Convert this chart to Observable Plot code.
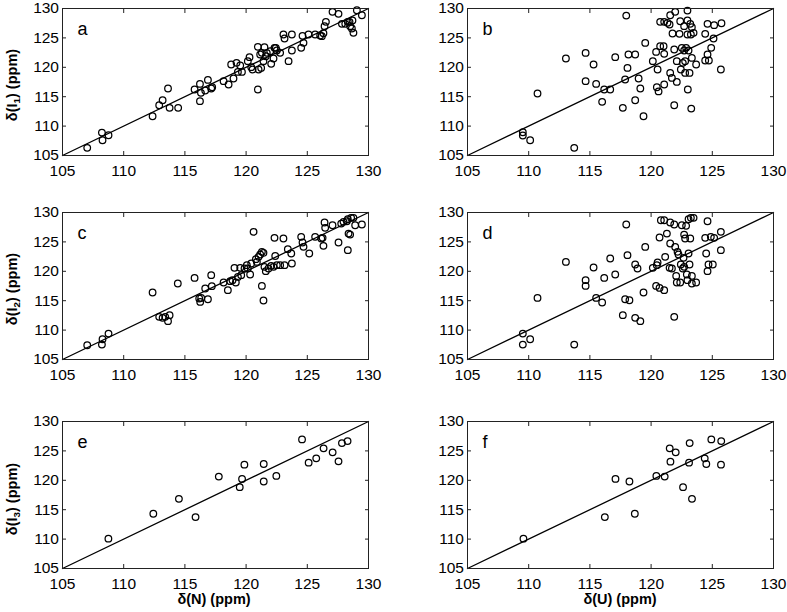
<!DOCTYPE html>
<html><head><meta charset="utf-8">
<script src="https://cdn.jsdelivr.net/npm/d3@7"></script>
<script src="https://cdn.jsdelivr.net/npm/@observablehq/plot@0.6"></script>
<style>
body{margin:0;background:#fff;}
#fig{position:relative;width:787px;height:612px;overflow:hidden;font-family:"Liberation Sans",Arial,sans-serif;color:#000;}
.panel{position:absolute;}
.ylab{position:absolute;font-weight:bold;font-size:14.5px;white-space:nowrap;transform:translate(-50%,-50%) rotate(-90deg);}
.xlab{position:absolute;font-weight:bold;font-size:14.5px;white-space:nowrap;transform:translate(-50%,-50%);}
sub{font-size:0.68em;vertical-align:-0.3em;line-height:0;}
</style></head><body><div id="fig"></div>
<script>
const axisRange = [105, 130];
const tickValues = [105, 110, 115, 120, 125, 130];
const letters = ["a", "b", "c", "d", "e", "f"];

// Panel a: δ(N) vs δ(I1)
const aN = [107.02,108.22,108.27,108.76,112.36,112.9,113.18,113.62,113.75,114.45,115.79,116.23,116.23,116.31,116.66,116.88,117.15,117.23,
118.16,118.57,118.78,118.97,119.22,119.33,119.52,119.66,120.14,120.28,120.42,120.53,120.96,121.02,121.15,121.29,121.23,121.42,121.5,121.61,121.69,121.97,122.05,122.24,122.32,122.43,122.51,122.78,120.96,123.05,123.14,123.74,123.47,123.74,124.5,124.61,124.69,125.1,125.64,126.05,126.19,126.32,126.41,126.52,127.06,127.55,127.83,128.1,128.31,128.45,128.5,128.64,128.77,128.69,129.05,129.46];
const aI1 = [106.3,108.9,107.6,108.45,111.68,113.55,114.4,116.39,113.1,113.1,116.22,117.18,114.24,115.66,116.05,117.86,116.39,116.6,
117.64,117.07,120.47,118.09,120.76,119.22,120.3,119.22,121.04,121.72,120.02,119.62,123.48,119.62,122.17,122.46,119.9,121.04,123.42,121.88,122.46,122.74,120.59,121.49,123.31,123.31,122.85,122.46,116.22,125.57,124.89,125.57,121.04,122.85,123.31,125.35,124.16,125.57,125.57,125.4,125.29,125.8,126.99,127.73,129.43,129.09,127.39,127.39,127.73,127.73,126.99,126.6,125.86,127.96,129.71,128.86];

// Panel b: δ(U) vs δ(I1)
const bU = [109.52,109.52,110.12,110.72,113.04,113.72,114.65,114.65,115.3,115.51,116.0,116.17,116.66,117.07,117.69,117.97,117.88,118.15,118.07,118.7,118.7,118.98,119.12,119.38,119.52,120.14,120.41,120.47,120.61,120.53,120.74,121.02,121.07,121.07,120.74,121.07,121.34,121.51,121.56,121.7,121.56,121.97,121.75,121.89,121.89,122.1,122.1,122.32,122.38,122.43,122.51,122.59,122.7,122.7,122.78,122.78,122.86,122.97,122.97,122.97,123.06,123.14,123.2,123.25,123.33,123.47,123.0,123.28,123.33,123.68,124.42,124.42,124.61,124.72,124.61,124.91,125.1,125.15,125.7,125.75];
const bI1 = [108.96,108.4,107.6,115.54,121.49,106.3,122.45,117.64,120.47,117.18,114.12,116.22,116.22,121.72,113.1,128.8,117.92,122.17,119.9,122.17,114.4,118.09,116.39,111.68,124.15,121.04,122.62,116.6,115.9,119.62,123.59,123.59,122.29,117.07,127.73,127.73,127.56,127.28,119.05,118.2,128.86,129.43,125.74,123.02,113.55,117.52,121.04,125.69,127.84,119.62,123.31,120.76,122.85,126.99,121.04,119.05,123.31,125.57,129.65,127.96,122.85,119.05,127.39,125.57,126.82,125.86,116.22,112.98,121.6,120.47,125.69,121.15,122.17,121.15,127.39,123.31,124.89,127.16,119.62,127.5];

// Panel c: δ(N) vs δ(I2)
const cN = [107.02,108.22,108.27,108.76,112.36,112.9,113.18,113.39,113.62,113.75,114.42,115.79,116.17,116.25,116.33,116.66,116.88,117.15,117.2,118.16,118.51,118.7,118.89,119.05,119.16,119.33,119.52,119.6,119.87,120.06,120.14,120.33,120.42,120.61,120.8,120.88,121.02,121.15,121.29,121.42,121.29,121.42,121.5,121.61,121.83,122.05,122.24,122.32,122.38,122.51,122.78,123.05,123.14,123.41,123.69,123.74,124.5,124.61,124.69,125.16,125.64,126.14,126.25,126.32,126.41,126.46,127.06,127.55,127.77,127.96,128.23,128.31,128.37,128.5,128.31,128.58,128.77,128.91,129.46];
const cI2 = [107.43,107.54,108.45,109.41,116.39,112.25,112.08,112.25,111.52,112.54,117.92,118.88,115.37,114.8,115.48,117.07,115.25,119.34,117.47,118.09,116.79,118.32,118.49,120.59,118.09,119.05,120.59,119.34,120.47,121.04,120.47,119.45,121.32,126.71,122.06,121.6,122.46,122.85,123.31,123.14,117.52,115.03,120.76,120.02,120.47,120.93,120.76,125.69,122.6,121.04,121.04,125.57,121.04,123.76,123.02,121.32,125.86,124.89,124.16,123.02,125.86,125.57,125.69,124.33,128.3,127.39,127.84,124.89,128.12,128.41,128.52,128.86,126.42,126.25,123.59,129.09,129.09,127.84,127.96];

// Panel d: δ(U) vs δ(I2)
const dU = [109.52,109.52,110.12,110.72,113.04,113.72,114.65,114.65,115.3,115.51,116.0,116.17,116.66,117.07,117.97,117.69,118.07,118.7,118.89,117.88,118.23,118.7,119.12,119.38,119.52,120.14,120.47,120.41,120.69,121.07,120.53,120.69,120.8,121.07,121.15,121.29,121.51,121.56,121.56,121.7,121.89,121.89,121.97,122.05,122.1,122.16,122.24,122.38,122.43,122.51,122.59,122.65,122.7,122.7,122.78,122.86,122.92,122.97,123.06,123.06,123.14,123.2,123.25,123.33,123.33,123.47,123.68,124.5,124.42,124.61,124.61,124.69,125.04,124.88,125.15,125.7,125.7];
const dI2 = [109.41,107.54,108.45,115.48,121.6,107.54,118.49,117.52,120.64,115.48,114.69,118.88,122.17,119.45,127.96,112.54,122.74,121.15,120.47,115.25,115.08,112.08,111.52,116.39,124.15,120.59,121.04,117.52,117.18,116.79,121.49,125.74,128.69,128.69,122.46,126.42,120.59,128.3,124.72,120.47,127.96,112.25,124.15,119.22,118.09,123.31,122.85,118.09,121.15,127.84,120.47,122.29,120.76,126.25,125.57,127.73,119.45,118.49,123.02,128.86,121.15,125.57,129.09,119.22,117.92,129.09,118.09,123.02,125.69,128.52,120.02,121.15,121.15,125.86,125.69,126.71,123.59];

// Panel e: δ(N) vs δ(I3)
const eN = [108.75,112.42,114.51,115.87,117.77,119.48,119.67,119.86,121.44,121.44,122.47,124.57,125.11,125.73,126.33,127.07,127.55,127.83,128.29];
const eI3 = [110.08,114.31,116.85,113.75,120.63,118.83,120.24,122.66,122.78,119.79,120.74,126.95,123.0,123.74,125.43,124.75,123.23,126.33,126.67];

// Panel f: δ(U) vs δ(I3)
const fU = [109.57,116.22,117.09,118.23,118.67,120.43,121.11,121.52,121.58,122.01,122.61,123.1,123.15,123.34,124.38,124.51,124.92,125.71,125.73];
const fI3 = [110.08,113.75,120.24,119.79,114.31,120.74,120.63,125.43,123.17,124.75,118.83,123.0,126.33,116.85,123.74,122.78,126.95,122.66,126.67];

const panels = [
  {xs: aN, ys: aI1, left: 0, top: 1},
  {xs: bU, ys: bI1, left: 405, top: 1},
  {xs: cN, ys: cI2, left: 0, top: 205},
  {xs: dU, ys: dI2, left: 405, top: 205},
  {xs: eN, ys: eI3, left: 0, top: 414},
  {xs: fU, ys: fI3, left: 405, top: 414}
];

const fig = document.getElementById("fig");

panels.forEach((p, i) => {
  const pts = p.xs.map((x, j) => ({x, y: p.ys[j]}));
  const chart = Plot.plot({
    width: 380, height: 195,
    marginLeft: 62, marginRight: 12, marginTop: 7, marginBottom: 41,
    style: {fontFamily: "'Liberation Sans', Arial, sans-serif", fontSize: "15.5px", color: "#000", background: "transparent", overflow: "visible"},
    x: {domain: axisRange},
    y: {domain: axisRange},
    marks: [
      Plot.line(axisRange, {x: d => d, y: d => d, stroke: "#000", strokeWidth: 1.3}),
      Plot.dot(pts, {x: "x", y: "y", r: 3.3, stroke: "#000", strokeWidth: 1.25, fill: "none"}),
      Plot.frame({stroke: "#222", strokeWidth: 1}),
      Plot.axisX(tickValues, {anchor: "bottom", tickSize: -4, tickPadding: 13.5, label: null, stroke: "#222"}),
      Plot.axisX(tickValues, {anchor: "top", tickSize: -4, tickFormat: () => "", label: null, stroke: "#222"}),
      Plot.axisY(tickValues, {anchor: "left", tickSize: -4, tickPadding: 7.5, label: null, stroke: "#222"}),
      Plot.axisY(tickValues, {anchor: "right", tickSize: -4, tickFormat: () => "", label: null, stroke: "#222"}),
      Plot.text([letters[i]], {frameAnchor: "top-left", text: d => d, dx: 15, dy: 14, lineAnchor: "top", textAnchor: "start", fontSize: 18})
    ]
  });
  const wrap = document.createElement("div");
  wrap.className = "panel";
  wrap.style.left = p.left + "px";
  wrap.style.top = p.top + "px";
  wrap.appendChild(chart);
  fig.appendChild(wrap);
});

const yLabels = [
  {html: "δ(I<sub>1</sub>) (ppm)", cy: 85},
  {html: "δ(I<sub>2</sub>) (ppm)", cy: 289},
  {html: "δ(I<sub>3</sub>) (ppm)", cy: 499}
];
yLabels.forEach(l => {
  const d = document.createElement("div");
  d.className = "ylab";
  d.innerHTML = l.html;
  d.style.left = "12px";
  d.style.top = l.cy + "px";
  fig.appendChild(d);
});
const xLabels = [
  {text: "δ(N) (ppm)", cx: 214},
  {text: "δ(U) (ppm)", cx: 620}
];
xLabels.forEach(l => {
  const d = document.createElement("div");
  d.className = "xlab";
  d.textContent = l.text;
  d.style.left = l.cx + "px";
  d.style.top = "599px";
  fig.appendChild(d);
});
</script></body></html>
